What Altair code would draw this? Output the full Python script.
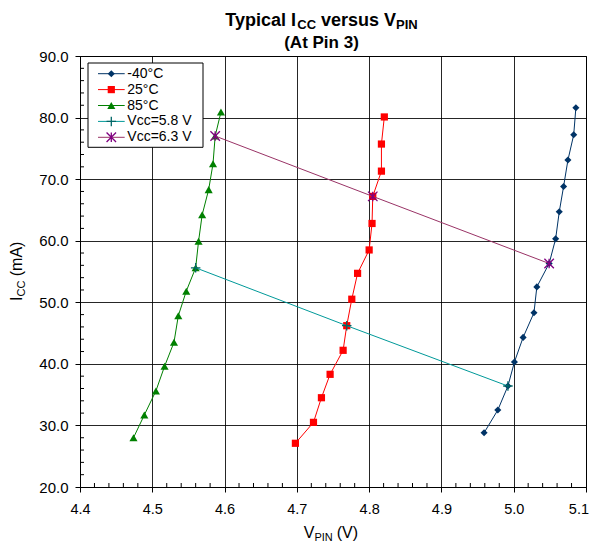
import altair as alt
import pandas as pd

FONT = "Liberation Sans"

# ---- data ----
v_m40 = [4.959, 4.978, 4.992, 5.001, 5.013, 5.028, 5.032, 5.049, 5.058, 5.063, 5.069, 5.075, 5.083, 5.086]
i_m40 = [28.8, 32.5, 36.4, 40.3, 44.3, 48.3, 52.5, 56.3, 60.3, 64.7, 68.8, 73.1, 77.2, 81.6]
v_25 = [4.698, 4.723, 4.734, 4.746, 4.764, 4.769, 4.776, 4.784, 4.800, 4.804, 4.805, 4.817, 4.817, 4.821]
i_25 = [27.1, 30.5, 34.5, 38.3, 42.2, 46.2, 50.5, 54.7, 58.5, 62.8, 67.2, 71.3, 75.7, 80.1]
v_85 = [4.474, 4.489, 4.505, 4.517, 4.530, 4.536, 4.547, 4.560, 4.564, 4.569, 4.578, 4.584, 4.587, 4.595]
i_85 = [28.0, 31.7, 35.6, 39.6, 43.5, 47.8, 51.8, 55.6, 59.9, 64.2, 68.3, 72.5, 77.0, 80.9]
v_58 = [4.560, 4.769, 4.992]
i_58 = [55.6, 46.2, 36.4]
v_63 = [4.587, 4.805, 5.049]
i_63 = [77.0, 67.2, 56.3]

series_names = ["-40°C", "25°C", "85°C", "Vcc=5.8 V", "Vcc=6.3 V"]
x_ticks = [4.4, 4.5, 4.6, 4.7, 4.8, 4.9, 5.0, 5.1]
y_ticks = [20, 30, 40, 50, 60, 70, 80, 90]
x_minor = [round(4.4 + 0.02 * k, 2) for k in range(36) if k % 5 != 0]
y_minor = [20 + 2 * k for k in range(36) if k % 5 != 0]

W, H = 506, 431
xs = alt.Scale(domain=[4.4, 5.1], nice=False, zero=False)
ys = alt.Scale(domain=[20, 90], nice=False, zero=False)

PLUS = "M-1,0L1,0M0,-1L0,1"
STAR = "M-1,-1L1,1M-1,1L1,-1M0,-1L0,1"

styles = {
    "-40°C": dict(line="#003366", mark="#003366", shape="diamond", size=50, filled=True),
    "25°C": dict(line="#FF0000", mark="#FF0000", shape="square", size=52, filled=True),
    "85°C": dict(line="#008000", mark="#008000", shape="triangle-up", size=66, filled=True),
    "Vcc=5.8 V": dict(line="#009999", mark="#006666", shape=PLUS, size=90, filled=False),
    "Vcc=6.3 V": dict(line="#993366", mark="#800080", shape=STAR, size=90, filled=False),
}
series_data = {
    "-40°C": (v_m40, i_m40),
    "25°C": (v_25, i_25),
    "85°C": (v_85, i_85),
    "Vcc=5.8 V": (v_58, i_58),
    "Vcc=6.3 V": (v_63, i_63),
}

one = alt.Data(values=[{"a": 1}])

xaxis = alt.Axis(values=x_ticks, format=".1f", title=None, grid=True, gridColor="#000000",
                 gridWidth=1, gridOpacity=0.85, tickSize=5, tickColor="#000000", domainColor="#000000",
                 labelFont=FONT, labelFontSize=14.5, labelColor="#000000", labelPadding=10,
                 labelFlush=False, labelOverlap=False,
                 labelAlign={"condition": {"test": "datum.value >= 5.09", "value": "right"}, "value": "center"},
                 labelOffset={"condition": {"test": "datum.value >= 5.09", "value": 2.5}, "value": 0})
yaxis = alt.Axis(values=y_ticks, format=".1f", title=None, grid=True, gridColor="#000000",
                 gridWidth=1, gridOpacity=0.85, tickSize=5, tickColor="#000000", domainColor="#000000",
                 labelFont=FONT, labelFontSize=15, labelColor="#000000", labelPadding=7,
                 labelFlush=False, labelOverlap=False)


def X(field):
    return alt.X(field, scale=xs, axis=xaxis)


def Y(field):
    return alt.Y(field, scale=ys, axis=yaxis)


layers = []
for name in series_names:
    vv, ii = series_data[name]
    st = styles[name]
    df = pd.DataFrame({"v": vv, "i": ii, "k": list(range(len(vv)))})
    line = alt.Chart(df).mark_line(color=st["line"], strokeWidth=1).encode(
        x=X("v:Q"), y=Y("i:Q"), order="k:Q",
    )
    pts = alt.Chart(df).mark_point(shape=st["shape"], size=st["size"], filled=st["filled"],
                                   color=st["mark"], opacity=1,
                                   strokeWidth=1 if st["filled"] else 1.3).encode(
        x=X("v:Q"), y=Y("i:Q"),
    )
    layers += [line, pts]

# minor ticks (inside)
ymin_df = pd.DataFrame({"i": y_minor})
xmin_df = pd.DataFrame({"v": x_minor})
layers.append(alt.Chart(ymin_df).mark_rule(color="#000000", strokeWidth=1).encode(
    y=Y("i:Q"), x=alt.value(0), x2=alt.value(4)))
layers.append(alt.Chart(xmin_df).mark_rule(color="#000000", strokeWidth=1).encode(
    x=X("v:Q"), y=alt.value(H - 4), y2=alt.value(H)))


def txt(s, x, y, size, bold=False, align="left", baseline="alphabetic", angle=0):
    return alt.Chart(one).mark_text(text=s, font=FONT, fontSize=size,
                                    fontWeight="bold" if bold else "normal",
                                    align=align, baseline=baseline, angle=angle,
                                    color="#000000").encode(x=alt.value(x), y=alt.value(y))


# legend box
LX0, LX1, LY0, LY1 = 8, 123, 7, 91.3
layers.append(alt.Chart(one).mark_rect(fill="white", stroke="#000000", strokeWidth=1).encode(
    x=alt.value(LX0), x2=alt.value(LX1), y=alt.value(LY0), y2=alt.value(LY1)))
for r, name in enumerate(series_names):
    st = styles[name]
    ry = 17.7 + r * 15.9
    layers.append(alt.Chart(one).mark_rule(color=st["line"], strokeWidth=1).encode(
        x=alt.value(18), x2=alt.value(44.7), y=alt.value(ry)))
    layers.append(alt.Chart(one).mark_point(shape=st["shape"], size=st["size"], filled=st["filled"],
                                            color=st["mark"], opacity=1,
                                            strokeWidth=1 if st["filled"] else 1.3).encode(
        x=alt.value(31.3), y=alt.value(ry)))
    layers.append(txt(name, 47.3, ry, 14, baseline="middle"))

# title  (widths from Arial-metric em widths; leading spaces handled by offsets)
TF, TS = 18, 13
SPB = 0.278  # space width (em)
t_parts = [("Typical I", TF, 0, 4.002), ("CC", TS, 3, 1.444), ("versus V", TF, 0, 4.169), ("PIN", TS, 3, 1.667)]
total = TF * SPB + sum(w * f for _, f, _, w in t_parts)
cx = 241.5
x0 = cx - total / 2
for p, f, dy, w in t_parts:
    if p == "versus V":
        x0 += TF * SPB
    layers.append(txt(p, x0, -30.3 + dy, f, bold=True))
    x0 += w * f
layers.append(txt("(At Pin 3)", cx, -8.3, 17, bold=True, align="center"))

# x axis title
xt = 223.8
layers.append(txt("V", xt, 482, 16))
layers.append(txt("PIN", xt + 16 * 0.667, 485, 11))
layers.append(txt("(V)", xt + 16 * 0.667 + 11 * 1.611 + 16 * 0.278, 482, 16))

# y axis title (rotated)
yt = 245
ybx = -58.5
layers.append(txt("I", ybx, yt, 16, angle=270))
layers.append(txt("CC", ybx + 3, yt - 16 * 0.278, 11, angle=270))
layers.append(txt("(mA)", ybx, yt - 16 * 0.278 - 11 * 1.444 - 16 * 0.278, 16, angle=270))

chart = alt.layer(*layers).properties(
    width=W, height=H,
    padding={"left": 72, "top": 48, "right": 3, "bottom": 58},
    autosize=alt.AutoSizeParams(type="none"),
    background="white",
).configure_view(stroke="#000000", strokeWidth=1)

chart.save("out.html", embed_options={"renderer": "svg", "actions": False})
